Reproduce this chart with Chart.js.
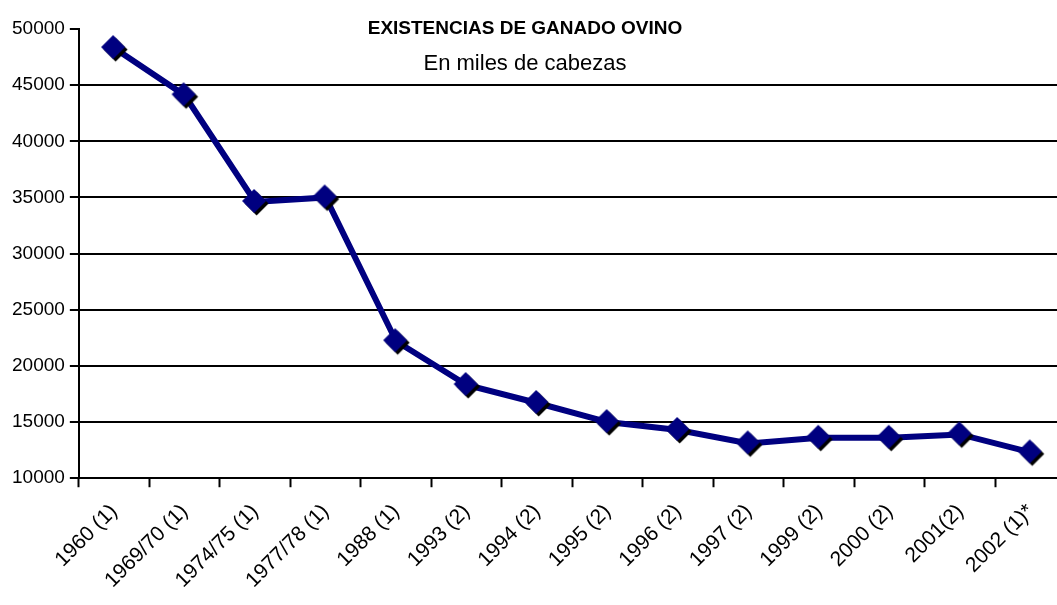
<!DOCTYPE html>
<html>
<head>
<meta charset="utf-8">
<script src="https://cdn.jsdelivr.net/npm/chart.js@4/dist/chart.umd.min.js"></script>
<style>
  html, body { margin: 0; padding: 0; background: #fff; overflow: hidden; }
  #wrap { width: 1057px; height: 605px; overflow: hidden; }
</style>
</head>
<body>
<div id="wrap"><canvas id="myChart" width="1066" height="605"></canvas></div>
<script>
var years = ["1960 (1)", "1969/70 (1)", "1974/75 (1)", "1977/78 (1)", "1988 (1)", "1993 (2)", "1994 (2)",
    "1995 (2)", "1996 (2)", "1997 (2)", "1999 (2)", "2000 (2)", "2001(2)", "2002 (1)*"];
var cabezas = [48300, 44100, 34600, 35000, 22200, 18300, 16700, 15000, 14300, 13100, 13600, 13600, 13900, 12300];
var titleLines = ["EXISTENCIAS DE GANADO OVINO", "En miles de cabezas"];

var fontName = "'Liberation Sans', Arial, sans-serif";

// diamond marker with a black shadow down-right
var marker = document.createElement('canvas');
marker.width = 30;
marker.height = 30;
var mctx = marker.getContext('2d');
function diamond(c, cx, cy, r, col) {
    c.beginPath();
    c.moveTo(cx, cy - r);
    c.lineTo(cx + r, cy);
    c.lineTo(cx, cy + r);
    c.lineTo(cx - r, cy);
    c.closePath();
    c.fillStyle = col;
    c.fill();
}
diamond(mctx, 16.5, 16.5, 12, "#000000");
diamond(mctx, 14, 14, 12, "#000080");

var titlePlugin = {
    id: 'titleText',
    afterDraw: function (chart) {
        var ctx = chart.ctx;
        ctx.save();
        ctx.fillStyle = "#000";
        ctx.textAlign = "center";
        ctx.textBaseline = "middle";
        ctx.font = "bold 19px " + fontName;
        ctx.fillText(titleLines[0], 525, 29);
        ctx.font = "22px " + fontName;
        ctx.fillText(titleLines[1], 525, 64);
        ctx.restore();
    }
};

var chart = new Chart(document.getElementById("myChart"), {
    type: 'line',
    data: {
        labels: years,
        datasets: [{
            data: cabezas,
            borderColor: "#000080",
            borderWidth: 6,
            pointStyle: marker,
            pointRadius: 12,
            tension: 0
        }]
    },
    options: {
        responsive: false,
        animation: false,
        layout: { autoPadding: false, padding: { top: 29, right: 0, left: 7, bottom: 0 } },
        plugins: {
            legend: { display: false },
            tooltip: { enabled: false }
        },
        scales: {
            x: {
                offset: true,
                afterFit: function (scale) {
                    scale.paddingRight = 0;
                },
                grid: {
                    offset: true,
                    drawOnChartArea: false,
                    drawTicks: true,
                    tickLength: 9,
                    tickColor: "#000",
                    tickWidth: 2
                },
                border: { color: "#000", width: 2 },
                ticks: {
                    color: "#000",
                    font: { family: fontName, size: 21 },
                    minRotation: 45,
                    maxRotation: 45,
                    autoSkip: false,
                    padding: 12
                }
            },
            y: {
                min: 10000,
                max: 50000,
                afterFit: function (scale) {
                    scale.paddingTop = 0;
                },
                grid: {
                    color: function (c) {
                        return c.tick && c.tick.value === 50000 ? "rgba(0,0,0,0)" : "#000";
                    },
                    lineWidth: 2,
                    tickLength: 9,
                    tickColor: "#000",
                    tickWidth: 2
                },
                border: { color: "#000", width: 2 },
                ticks: {
                    stepSize: 5000,
                    color: "#000",
                    font: { family: fontName, size: 19 },
                    padding: 5,
                    callback: function (v) { return String(v); }
                }
            }
        }
    },
    plugins: [titlePlugin]
});
</script>
</body>
</html>
